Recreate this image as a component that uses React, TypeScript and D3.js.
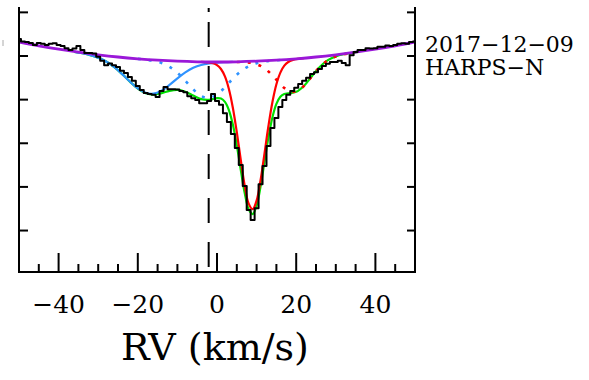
import React from "react";
import * as d3 from "d3";

// ---- data ----
const X_DOMAIN: [number, number] = [-50, 50];
const Y_DOMAIN: [number, number] = [0.505, 1.11];
const X_MAJOR = [-40, -20, 0, 20, 40];
const X_MINOR = [-45, -35, -30, -25, -15, -10, -5, 5, 10, 15, 25, 30, 35, 45];
const Y_TICKS = [0.6, 0.7, 0.8, 0.9, 1.0, 1.1];
const DASH_RV = -2.1;
const DATE_LABEL = "2017\u221212\u221209";
const INSTRUMENT = "HARPS\u2212N";
const X_TITLE = "RV (km/s)";

// observed spectrum, RV -50..50 step 1
const OBS_START = -50;
const OBS_FLUX = [
  1.039, 1.033, 1.032, 1.030, 1.025, 1.030, 1.028, 1.025, 1.028, 1.029,
  1.025, 1.023, 1.018, 1.014, 1.017, 1.023, 1.014, 1.007, 1.007, 1.006,
  0.998, 0.989, 0.979, 0.983, 0.979, 0.975, 0.966, 0.961, 0.952, 0.943,
  0.931, 0.922, 0.915, 0.913, 0.911, 0.906, 0.920, 0.929, 0.924, 0.924,
  0.923, 0.920, 0.917, 0.908, 0.903, 0.899, 0.892, 0.892, 0.897, 0.913,
  0.897, 0.888, 0.869, 0.849, 0.821, 0.789, 0.750, 0.702, 0.647, 0.624,
  0.651, 0.706, 0.748, 0.794, 0.835, 0.858, 0.883, 0.899, 0.911, 0.920,
  0.927, 0.936, 0.943, 0.950, 0.959, 0.963, 0.970, 0.977, 0.982, 0.986,
  0.986, 0.989, 0.984, 0.979, 1.002, 1.009, 1.014, 1.014, 1.018, 1.017,
  1.018, 1.021, 1.021, 1.024, 1.023, 1.025, 1.028, 1.029, 1.028, 1.032,
  1.033,
];

// continuum (purple)
const CONT_RV = [-50, -45, -40, -35, -30, -25, -20, -15, -10, -5, 0, 5, 10, 15, 20, 25, 30, 35, 40, 45, 50];
const CONT_FLUX = [1.0321, 1.0234, 1.0156, 1.0087, 1.0028, 0.9977, 0.9936, 0.9904, 0.9881, 0.9867, 0.9862,
  0.9867, 0.9881, 0.9904, 0.9936, 0.9977, 1.0028, 1.0087, 1.0156, 1.0234, 1.0321];

// blue solid component
const BLUE1_RV = [-36, -34, -32, -30, -28, -26, -24, -22, -20, -18, -16, -14, -12, -10, -8, -6, -4, -2, 0, 2, 4];
const BLUE1_FLUX = [1.0096, 1.0063, 1.0021, 0.9961, 0.9873, 0.9749, 0.9590, 0.9415, 0.9256, 0.9155, 0.9138,
  0.9207, 0.9336, 0.9487, 0.9624, 0.9728, 0.9794, 0.9831, 0.9849, 0.9858, 0.9864];

// blue dotted component
const BLUE2_RV = [-20, -18, -16, -14, -12, -10, -8, -6, -4, -2, 0, 2, 4, 6, 8, 10, 12, 14, 16];
const BLUE2_FLUX = [0.9934, 0.9915, 0.9887, 0.9839, 0.9754, 0.9617, 0.9432, 0.9234, 0.9084, 0.9039, 0.9116,
  0.9284, 0.9480, 0.9649, 0.9767, 0.9836, 0.9873, 0.9893, 0.9908];

// red solid component
const RED1_RV = [-4, -3, -2, -1, 0, 1, 2, 3, 4, 5, 6, 7, 8, 9, 10, 11, 12, 13, 14, 15, 16, 17, 18, 19, 20, 21, 22];
const RED1_FLUX = [0.9864, 0.9861, 0.9853, 0.9834, 0.9792, 0.9702, 0.9532, 0.9245, 0.8815, 0.8254, 0.7620,
  0.7029, 0.6616, 0.6489, 0.6686, 0.7152, 0.7769, 0.8401, 0.8946, 0.9353, 0.9620, 0.9778, 0.9862, 0.9905,
  0.9927, 0.9941, 0.9951];

// red dotted component
const RED2_RV = [5, 7, 9, 11, 13, 15, 17, 19, 21, 23, 25, 27, 29, 31, 33, 35];
const RED2_FLUX = [0.9864, 0.9859, 0.9836, 0.9773, 0.9643, 0.9455, 0.9267, 0.9175, 0.9237, 0.9427, 0.9653,
  0.9837, 0.9954, 1.0019, 1.0057, 1.0086];

// total model (green)
const TOTAL_RV = [-36, -34, -32, -30, -28, -26, -24, -22, -20, -18, -16, -14, -12, -10, -8, -6, -4, -2,
  -1, 0, 1, 2, 3, 4, 5, 6, 7, 8, 9, 10, 11, 12, 13, 14, 15, 16, 17, 18, 20, 22, 24, 26, 28, 30, 32, 34, 36];
const TOTAL_FLUX = [1.0096, 1.0063, 1.0021, 0.9961, 0.9873, 0.9749, 0.9590, 0.9414, 0.9254, 0.9148,
  0.9116, 0.9148, 0.9201, 0.9223, 0.9182, 0.9093, 0.9012, 0.8996,
  0.9014, 0.9033, 0.9024, 0.8948, 0.8761, 0.8429, 0.7955, 0.7394, 0.6861, 0.6486, 0.6378, 0.6572,
  0.7012, 0.7581, 0.8142, 0.8597, 0.8902, 0.9065, 0.9130, 0.9144,
  0.9178, 0.9320, 0.9541, 0.9753, 0.9904, 0.9991, 1.0040, 1.0072, 1.0100];

// ---- chart ----
const W = 589;
const H = 380;
const LEFT = 19;
const RIGHT = 415;
const TOP = 8;
const BOTTOM = 272;
const SERIF = "'DejaVu Serif', serif";

export default function App() {
  const x = d3.scaleLinear().domain(X_DOMAIN).range([LEFT, RIGHT]);
  const y = d3.scaleLinear().domain(Y_DOMAIN).range([BOTTOM, TOP]);

  const smooth = d3
    .line<[number, number]>()
    .x((d) => x(d[0]))
    .y((d) => y(d[1]))
    .curve(d3.curveCatmullRom.alpha(0.5));
  const step = d3
    .line<[number, number]>()
    .x((d) => x(d[0]))
    .y((d) => y(d[1]))
    .curve(d3.curveStep);

  const zip = (a: number[], b: number[]) => a.map((v, i) => [v, b[i]] as [number, number]);
  const obs = OBS_FLUX.map((f, i) => [OBS_START + i, f] as [number, number]);

  const xd = x(DASH_RV);

  return (
    <svg
      width={W}
      height={H}
      style={{ position: "absolute", left: 0, top: 0, background: "#fff" }}
    >
      <rect x={0} y={0} width={W} height={H} fill="#fff" />
      <defs>
        <clipPath id="plot">
          <rect x={LEFT} y={TOP} width={RIGHT - LEFT} height={BOTTOM - TOP} />
        </clipPath>
      </defs>

      {/* stray mark at left edge */}
      <line x1={3} x2={3} y1={40} y2={46} stroke="#aaa" strokeWidth={1} />

      {/* dashed reference line */}
      <line x1={xd} x2={xd} y1={TOP} y2={12} stroke="#000" strokeWidth={2} />
      <line x1={xd} x2={xd} y1={22} y2={BOTTOM} stroke="#000" strokeWidth={2} strokeDasharray="25 19" />

      <g clipPath="url(#plot)" fill="none" strokeLinejoin="round">
        <path d={smooth(zip(TOTAL_RV, TOTAL_FLUX)) || ""} stroke="#00e000" strokeWidth={2.2} />
        <path d={smooth(zip(BLUE1_RV, BLUE1_FLUX)) || ""} stroke="#2f93ff" strokeWidth={2.2} />
        <path d={smooth(zip(BLUE2_RV, BLUE2_FLUX)) || ""} stroke="#2f93ff" strokeWidth={2.6} strokeDasharray="3 8" />
        <path d={smooth(zip(RED1_RV, RED1_FLUX)) || ""} stroke="#ff0000" strokeWidth={2.2} />
        <path d={smooth(zip(RED2_RV, RED2_FLUX)) || ""} stroke="#ff0000" strokeWidth={2.6} strokeDasharray="3 8" />
        <path d={smooth(zip(CONT_RV, CONT_FLUX)) || ""} stroke="#9a18d8" strokeWidth={2.8} />
        <path d={step(obs) || ""} stroke="#000" strokeWidth={2} />
      </g>

      {/* frame */}
      <g stroke="#000" strokeWidth={2} strokeLinecap="square">
        <line x1={LEFT} x2={LEFT} y1={TOP} y2={BOTTOM} />
        <line x1={RIGHT} x2={RIGHT} y1={TOP} y2={BOTTOM} />
        <line x1={LEFT} x2={RIGHT} y1={BOTTOM} y2={BOTTOM} />
      </g>
      <g stroke="#000" strokeWidth={2}>
        {Y_TICKS.map((t) => (
          <g key={"y" + t}>
            <line x1={LEFT} x2={LEFT + 9} y1={y(t)} y2={y(t)} />
            <line x1={RIGHT - 8} x2={RIGHT} y1={y(t)} y2={y(t)} />
          </g>
        ))}
        {X_MAJOR.map((t) => (
          <line key={"xM" + t} x1={x(t)} x2={x(t)} y1={BOTTOM} y2={BOTTOM - 19} />
        ))}
        {X_MINOR.map((t) => (
          <line key={"xm" + t} x1={x(t)} x2={x(t)} y1={BOTTOM} y2={BOTTOM - 8} />
        ))}
      </g>

      <g fontFamily={SERIF} fill="#000">
        {X_MAJOR.map((t) => (
          <text key={"xl" + t} x={x(t)} y={313} fontSize={25} textAnchor="middle">
            {t < 0 ? "\u2212" + Math.abs(t) : String(t)}
          </text>
        ))}
        <text x={215} y={360} fontSize={38} textAnchor="middle">
          {X_TITLE}
        </text>
        <text x={425} y={52} fontSize={22}>
          {DATE_LABEL}
        </text>
        <text x={425} y={75} fontSize={22}>
          {INSTRUMENT}
        </text>
      </g>
    </svg>
  );
}
